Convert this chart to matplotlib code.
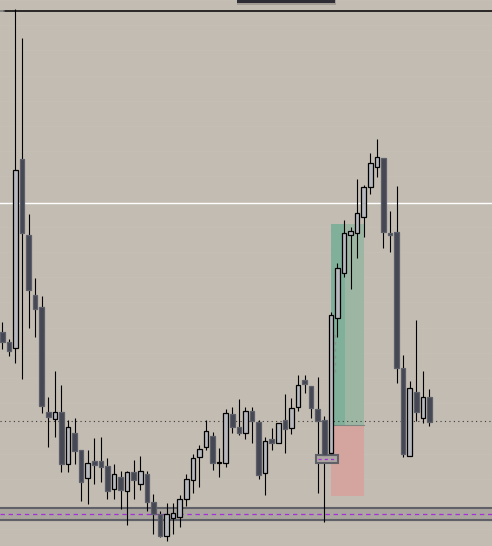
import matplotlib.pyplot as plt
from matplotlib.patches import Rectangle

# candle data (price units, index = bar number)
opens = [214, 204, 198, 387, 311, 251, 239, 134, 127, 134, 82, 113, 96, 68, 85, 85, 80, 57, 69, 55,
         74, 62, 72, 44, 32, 10, 28, 29, 47, 66, 89, 99, 110, 83, 83, 132, 119, 113, 135, 124,
         73, 107, 103, 126, 118, 139, 166, 160, 137, 126, 93, 228, 273, 311, 313, 329, 359, 379, 388, 313,
         314, 178, 90, 154, 128, 149]
highs = [224, 207, 537, 508, 332, 268, 250, 149, 175, 161, 126, 128, 96, 96, 108, 109, 88, 82, 75, 75,
         86, 90, 75, 52, 35, 43, 43, 51, 72, 92, 101, 126, 114, 98, 137, 139, 147, 139, 139, 126,
         109, 118, 123, 152, 148, 171, 171, 160, 169, 130, 234, 283, 326, 319, 367, 361, 393, 407, 388, 335,
         360, 191, 165, 226, 175, 157]
lows = [197, 190, 183, 167, 218, 209, 133, 99, 109, 74, 74, 82, 45, 42, 62, 64, 47, 47, 37, 21,
        47, 56, 35, 12, 9, 5, 12, 19, 40, 53, 59, 96, 76, 69, 79, 113, 111, 107, 103, 67,
        51, 96, 103, 93, 112, 135, 153, 128, 53, 24, 90, 209, 269, 257, 288, 309, 352, 369, 298, 294,
        163, 89, 90, 125, 123, 120]
closes = [204, 195, 376, 313, 256, 237, 140, 129, 134, 82, 119, 95, 64, 83, 81, 79, 55, 72, 56, 74,
          66, 75, 44, 32, 10, 32, 33, 47, 67, 88, 97, 115, 83, 83, 133, 119, 113, 135, 125, 71,
          105, 103, 123, 117, 138, 161, 162, 138, 125, 91, 231, 278, 313, 315, 333, 359, 383, 389, 314, 311,
          178, 92, 158, 134, 149, 124]

# drawn levels
top_level = 535.5
white_level = 343.5
dotted_level = 125
band_upper = 38.3
band_lower = 26.3
band_mid = 31.7

# long position tool
pos_left, pos_right = 50.03, 55.03
entry, target, stop = 120.7, 322, 50.3

fig = plt.figure(figsize=(4.92, 5.46), dpi=100)
fig.patch.set_facecolor('#c3bcb2')
ax = fig.add_axes([0, 0, 1, 1])
ax.set_facecolor('#c3bcb2')
ax.set_xlim(-0.35, 74.53)
ax.set_ylim(0, 546)
ax.axis('off')

# faint horizontal grid
for k in range(22):
    ax.axhline(546 - 25.2 * k, color='#c6bfb5', lw=0.7, zorder=0)

# position boxes
ax.add_patch(Rectangle((pos_left, entry), pos_right - pos_left, target - entry,
                       facecolor='#9db6a3', edgecolor='none', zorder=1))
ax.add_patch(Rectangle((pos_left, entry), 2.15, target - entry,
                       facecolor='#80b09a', edgecolor='none', zorder=1))
ax.add_patch(Rectangle((pos_left, stop), pos_right - pos_left, entry - stop,
                       facecolor='#d4a59e', edgecolor='none', zorder=1))
ax.plot([pos_left, pos_right], [entry, entry], color='#7d8781', lw=0.8, zorder=1)
ax.plot([50.65, 50.65], [174, 214], color='#8c948e', lw=1.0, ls=(0, (2, 3)), zorder=1)

# support band
ax.axhspan(band_lower, band_upper, color='#aba69f', zorder=1)
ax.axhline(band_upper, color='#5f6068', lw=1.5, zorder=1)
ax.axhline(band_lower, color='#5f6068', lw=1.5, zorder=1)
ax.axhline(band_mid, color='#a62ed8', lw=0.9, ls=(0, (3.5, 3)), zorder=1)

# small entry marker box
ax.add_patch(Rectangle((47.75, 83.5), 3.3, 7.3, facecolor='#aba69f',
                       edgecolor='#5f6068', lw=1.5, zorder=4))
ax.plot([48.1, 50.7], [87.2, 87.2], color='#a62ed8', lw=0.9, ls=(0, (2.5, 2.5)), zorder=4)

# horizontal lines
ax.axhline(top_level, xmin=4 / 492, color='black', lw=1.1, zorder=2)
ax.axhline(top_level, xmax=4 / 492, color='#777777', lw=1.1, zorder=2)
ax.axhline(white_level, color='white', lw=1.0, zorder=2)
ax.axhline(dotted_level, color='#3a3a3a', lw=0.8, ls=(0, (1, 3)), zorder=2)

# candles
idx = list(range(len(opens)))
ax.vlines(idx, lows, highs, color='black', lw=0.8, zorder=3)
for i in idx:
    o, c = opens[i], closes[i]
    h = max(abs(c - o), 1.0)
    if c >= o:
        ax.bar(i, h, bottom=min(o, c), width=0.7, color='#b6b8be',
               edgecolor='black', lw=0.9, zorder=5)
    else:
        ax.bar(i, h, bottom=min(o, c), width=0.7, color='#454753',
               edgecolor='#5c5e69', lw=0.9, zorder=5)

# dark tab at the top
fig.add_artist(Rectangle((237 / 492, 1 - 4.5 / 546), 99 / 492, 4.5 / 546,
                         transform=fig.transFigure, facecolor='#8e8880',
                         edgecolor='none', alpha=0.6))
fig.add_artist(Rectangle((237 / 492, 1 - 3 / 546), 98 / 492, 3 / 546,
                         transform=fig.transFigure, facecolor='#2e2d35',
                         edgecolor='none'))

fig.savefig('out.png', dpi=100, facecolor=fig.get_facecolor())
